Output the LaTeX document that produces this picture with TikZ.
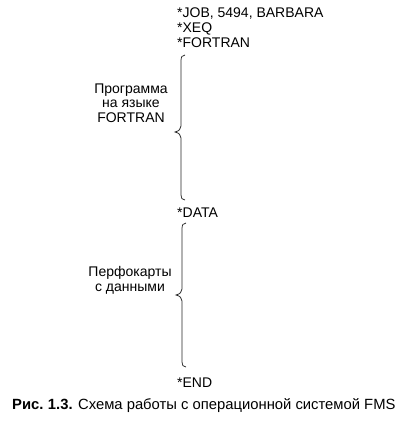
\documentclass[tikz,border=0pt]{standalone}
\usepackage{fontspec}
\setmainfont{Liberation Sans}
\begin{document}
\begin{tikzpicture}[x=1pt,y=-1pt,
  txt/.style={inner sep=0pt,font=\fontsize{14}{14.5}\selectfont},
  bracepath/.style={line width=0.75pt,draw=black!85}]
\useasboundingbox (0,0) rectangle (409,423);
% card lines
\node[txt,anchor=base west] (job) at (177,17) {*JOB, 5494, BARBARA};
\node[txt,anchor=base west] (xeq) at (177,32) {*XEQ};
\node[txt,anchor=base west] (fort) at (177,47) {*FORTRAN};
\node[txt,anchor=base west] (data) at (177,217) {*DATA};
\node[txt,anchor=base west] (end) at (177,387) {*END};
% labels
\node[txt,align=center,anchor=base] (prog) at (131,122) {Программа\\на языке\\FORTRAN};
\node[txt,align=center,anchor=base] (perf) at (130,291) {Перфокарты\\с данными};
% braces
\draw[bracepath] (185,55) .. controls (182,55) and (181,57) .. (181,61)
  -- (181,126) .. controls (181,129) and (179,131) .. (175,132)
  .. controls (179,133) and (181,135) .. (181,138)
  -- (181,195) .. controls (181,198) and (182,200) .. (185,200);
\draw[bracepath] (186,223) .. controls (183,223) and (182,225) .. (182,229)
  -- (182,289) .. controls (182,292) and (180,294) .. (176,295)
  .. controls (180,296) and (182,298) .. (182,301)
  -- (182,362) .. controls (182,365) and (183,367) .. (186,367);
% caption
\node[inner sep=0pt,anchor=base west,font=\fontsize{14.8}{15}\selectfont] (cap) at (12,409)
  {\textbf{Рис.\hspace{0.3em}1.3.} Схема работы с операционной системой FMS};
\end{tikzpicture}
\end{document}
